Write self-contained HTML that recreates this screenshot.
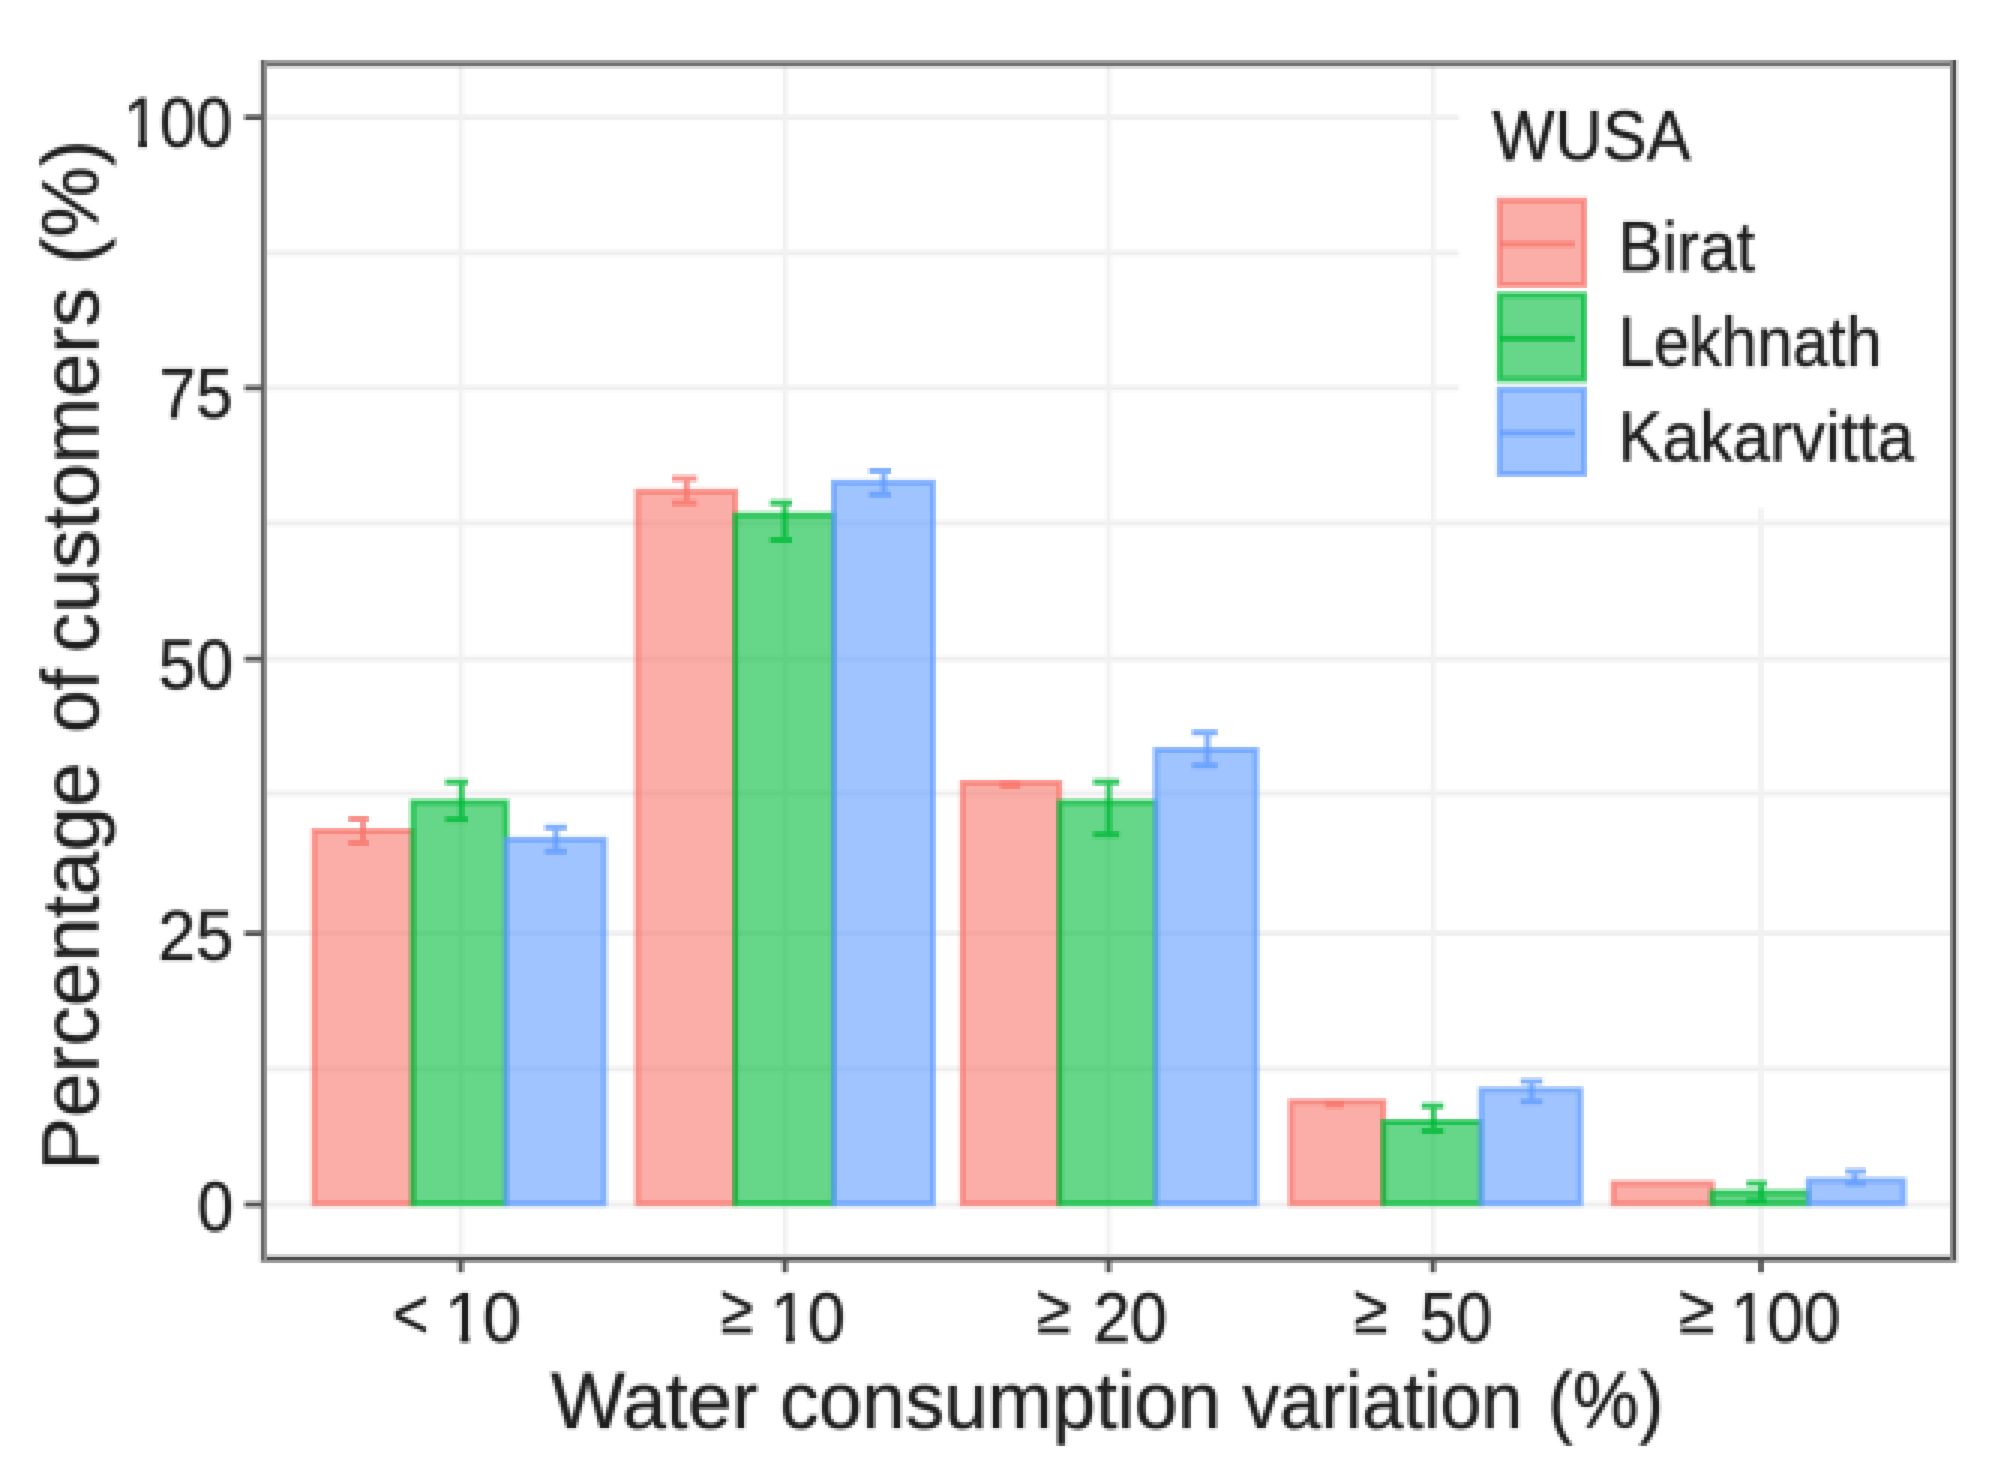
<!DOCTYPE html>
<html lang="en"><head><meta charset="utf-8"><title>Water consumption variation by WUSA</title>
<style>
html,body{margin:0;padding:0;background:#fff;}
body{width:2009px;height:1481px;overflow:hidden;}
svg{display:block;}
text{font-family:"Liberation Sans",Arial,Helvetica,sans-serif;fill:#1f1f1f;stroke:#1f1f1f;stroke-width:2.2px;stroke-opacity:0.3;stroke-linejoin:round;}
</style></head><body>
<svg width="2009" height="1481" viewBox="0 0 2009 1481">
<defs>
<filter id="soft" x="0" y="0" width="2009" height="1481" filterUnits="userSpaceOnUse" primitiveUnits="userSpaceOnUse" color-interpolation-filters="sRGB">
<feConvolveMatrix order="3" kernelMatrix="1 1 1 1 1 1 1 1 1" divisor="9" edgeMode="duplicate" preserveAlpha="true" result="avg"/><feFlood x="1" y="1" width="1" height="1" flood-color="#000" result="f"/><feOffset in="f" dx="0" dy="0" x="0" y="0" width="3" height="3" result="dot"/><feTile in="dot" result="dots"/><feComposite in="avg" in2="dots" operator="in"/><feMorphology operator="dilate" radius="1"/><feConvolveMatrix order="3" kernelMatrix="0 1 0 1 6 1 0 1 0" edgeMode="duplicate" preserveAlpha="true"/>
</filter></defs>
<g filter="url(#soft)">
<rect width="2009" height="1481" fill="#fff"/>
<!-- grid -->
<g stroke="#efefef" stroke-width="5.5" fill="none">
<line x1="265" x2="1953" y1="117.4" y2="117.4"/>
<line x1="265" x2="1953" y1="253" y2="253"/>
<line x1="265" x2="1953" y1="388" y2="388"/>
<line x1="265" x2="1953" y1="523.2" y2="523.2"/>
<line x1="265" x2="1953" y1="659" y2="659"/>
<line x1="265" x2="1953" y1="793.5" y2="793.5"/>
<line x1="265" x2="1953" y1="933.2" y2="933.2"/>
<line x1="265" x2="1953" y1="1069" y2="1069"/>
<line x1="265" x2="1953" y1="1204.5" y2="1204.5"/>
</g>
<g stroke="#f1f1f1" stroke-width="5" fill="none">
<line x1="460.8" x2="460.8" y1="64" y2="1257.7"/>
<line x1="785" x2="785" y1="64" y2="1257.7"/>
<line x1="1108.6" x2="1108.6" y1="64" y2="1257.7"/>
<line x1="1433" x2="1433" y1="64" y2="1257.7"/>
<line x1="1761" x2="1761" y1="64" y2="1257.7"/>
</g>
<!-- bars -->
<g fill-opacity="0.6" stroke-width="5.8" stroke-opacity="0.72">
<rect x="314.2" y="831" width="98.6" height="372.7" fill="#F8766D" stroke="#F8766D"/>
<rect x="412.8" y="802.2" width="93.2" height="401.5" fill="#00BA38" stroke="#00BA38"/>
<rect x="506" y="839.5" width="98.3" height="364.2" fill="#619CFF" stroke="#619CFF"/>
<rect x="637.5" y="491.5" width="97.8" height="712.2" fill="#F8766D" stroke="#F8766D"/>
<rect x="735.3" y="515" width="98.5" height="688.7" fill="#00BA38" stroke="#00BA38"/>
<rect x="833.8" y="482.5" width="99.0" height="721.2" fill="#619CFF" stroke="#619CFF"/>
<rect x="962.5" y="782.8" width="97.0" height="420.9" fill="#F8766D" stroke="#F8766D"/>
<rect x="1059.5" y="802.3" width="96.5" height="401.4" fill="#00BA38" stroke="#00BA38"/>
<rect x="1156" y="749.8" width="100.0" height="453.9" fill="#619CFF" stroke="#619CFF"/>
<rect x="1290.9" y="1101.7" width="92.6" height="102.0" fill="#F8766D" stroke="#F8766D"/>
<rect x="1383.5" y="1122" width="97.5" height="81.7" fill="#00BA38" stroke="#00BA38"/>
<rect x="1481" y="1089.8" width="99.2" height="113.9" fill="#619CFF" stroke="#619CFF"/>
<rect x="1613.3" y="1183.3" width="98.7" height="20.4" fill="#F8766D" stroke="#F8766D"/>
<rect x="1712" y="1192.6" width="96.5" height="11.1" fill="#00BA38" stroke="#00BA38"/>
<rect x="1808.5" y="1180.3" width="95.0" height="23.4" fill="#619CFF" stroke="#619CFF"/>
</g>
<!-- error bars -->
<g fill="none" stroke-width="5.8" stroke-opacity="0.8">
<path d="M348.5 819H368.7M348.5 843H368.7M363 819V843" stroke="#F8766D"/>
<path d="M445.2 782.2H467.9M445.2 819.4H467.9M461.4 782.2V819.4" stroke="#00BA38"/>
<path d="M544.7 827.5H566.7M544.7 851.5H566.7M556 827.5V851.5" stroke="#619CFF"/>
<path d="M672 478.5H697M672 503H697M686.5 478.5V503" stroke="#F8766D"/>
<path d="M770 503H792M770 540H792M784.7 503V540" stroke="#00BA38"/>
<path d="M869 470.8H891M869 494.5H891M883.7 470.8V494.5" stroke="#619CFF"/>
<path d="M1000 784H1020.4M1000 786H1020.4M1010 784V786" stroke="#F8766D"/>
<path d="M1093.2 782H1119.4M1093.2 834.5H1119.4M1108.8 782V834.5" stroke="#00BA38"/>
<path d="M1192 732.5H1217.5M1192 765.5H1217.5M1207.4 732.5V765.5" stroke="#619CFF"/>
<path d="M1325 1103.5H1343.8M1325 1105H1343.8M1334 1103.5V1105" stroke="#F8766D"/>
<path d="M1421.6 1106H1443.6M1421.6 1131H1443.6M1433.4 1106V1131" stroke="#00BA38"/>
<path d="M1520.6 1081.3H1542.6M1520.6 1101.7H1542.6M1531.6 1081.3V1101.7" stroke="#619CFF"/>
<path d="M1746.5 1183.3H1766.8M1746.5 1201H1766.8M1761.3 1183.3V1201" stroke="#00BA38"/>
<path d="M1845.5 1171.5H1865.8M1845.5 1183.3H1865.8M1854.9 1171.5V1183.3" stroke="#619CFF"/>
</g>
<!-- legend -->
<rect x="1459" y="66" width="492" height="442" fill="#fff"/>
<rect x="1499.5" y="200.3" width="84.6" height="84.6" fill="#F8766D" fill-opacity="0.6" stroke="#F8766D" stroke-width="5.8" stroke-opacity="0.72"/>
<line x1="1500" x2="1574.8" y1="244.2" y2="244.2" stroke="#F8766D" stroke-width="5.8" stroke-opacity="0.8"/>
<rect x="1499.5" y="294.8" width="84.6" height="84.6" fill="#00BA38" fill-opacity="0.6" stroke="#00BA38" stroke-width="5.8" stroke-opacity="0.72"/>
<line x1="1500" x2="1574.8" y1="338.7" y2="338.7" stroke="#00BA38" stroke-width="5.8" stroke-opacity="0.8"/>
<rect x="1499.5" y="389.3" width="84.6" height="84.6" fill="#619CFF" fill-opacity="0.6" stroke="#619CFF" stroke-width="5.8" stroke-opacity="0.72"/>
<line x1="1500" x2="1574.8" y1="433.2" y2="433.2" stroke="#619CFF" stroke-width="5.8" stroke-opacity="0.8"/>
<!-- panel border and ticks -->
<rect x="261" y="60.9" width="1698.0" height="5.8" fill="#707070"/>
<rect x="261" y="1254" width="1698.0" height="3.0" fill="#d0d0d0"/>
<rect x="261" y="1257" width="1698.0" height="3.0" fill="#484848"/>
<rect x="261" y="1260" width="1698.0" height="3.0" fill="#9a9a9a"/>
<rect x="258" y="60" width="3.0" height="1203.0" fill="#ededed"/>
<rect x="261" y="60" width="3.0" height="1200.0" fill="#666666"/>
<rect x="264" y="60" width="3.0" height="1200.0" fill="#909090"/>
<rect x="1950" y="60" width="3.0" height="1200.0" fill="#8a8a8a"/>
<rect x="1953" y="60" width="3.0" height="1200.0" fill="#4d4d4d"/>
<rect x="1956" y="60" width="3.0" height="1203.0" fill="#e0e0e0"/>
<g stroke="#555" stroke-width="5.4">
<line x1="244.5" x2="263" y1="117.4" y2="117.4"/>
<line x1="244.5" x2="263" y1="388" y2="388"/>
<line x1="244.5" x2="263" y1="659" y2="659"/>
<line x1="244.5" x2="263" y1="933.4" y2="933.4"/>
<line x1="244.5" x2="263" y1="1204.5" y2="1204.5"/>
<line x1="460.8" x2="460.8" y1="1259" y2="1272.5"/>
<line x1="785" x2="785" y1="1259" y2="1272.5"/>
<line x1="1108.6" x2="1108.6" y1="1259" y2="1272.5"/>
<line x1="1433" x2="1433" y1="1259" y2="1272.5"/>
<line x1="1761" x2="1761" y1="1259" y2="1272.5"/>
</g>
<!-- text -->
<text y="147.3" font-size="69.5"><tspan x="123.49" y="147.3" textLength="108.62" lengthAdjust="spacingAndGlyphs">100</tspan></text>
<text y="418" font-size="69.5"><tspan x="159.19" y="418.0" textLength="73.61" lengthAdjust="spacingAndGlyphs">75</tspan></text>
<text y="689.2" font-size="69.5"><tspan x="158.62" y="689.2" textLength="74.62" lengthAdjust="spacingAndGlyphs">50</tspan></text>
<text y="959.8" font-size="69.5"><tspan x="158.11" y="959.8" textLength="75.35" lengthAdjust="spacingAndGlyphs">25</tspan></text>
<text y="1230.6" font-size="69.5"><tspan x="197.29" y="1230.6" textLength="36.27" lengthAdjust="spacingAndGlyphs">0</tspan></text>
<text y="1341.5" font-size="69.5"><tspan x="392.39" y="1338.1" textLength="36.36" lengthAdjust="spacingAndGlyphs">&lt;</tspan> <tspan x="444.64" y="1341.5" textLength="76.26" lengthAdjust="spacingAndGlyphs">10</tspan></text>
<text y="1341.5" font-size="69.5"><tspan x="720.72" y="1332.5" textLength="32.49" lengthAdjust="spacingAndGlyphs">≥</tspan> <tspan x="770.25" y="1341.5" textLength="75.11" lengthAdjust="spacingAndGlyphs">10</tspan></text>
<text y="1341.5" font-size="69.5"><tspan x="1036.63" y="1332.5" textLength="34.17" lengthAdjust="spacingAndGlyphs">≥</tspan> <tspan x="1093.17" y="1341.5" textLength="74.15" lengthAdjust="spacingAndGlyphs">20</tspan></text>
<text y="1341.5" font-size="69.5"><tspan x="1353.63" y="1332.5" textLength="34.17" lengthAdjust="spacingAndGlyphs">≥</tspan> <tspan x="1420.42" y="1341.5" textLength="71.81" lengthAdjust="spacingAndGlyphs">50</tspan></text>
<text y="1341.5" font-size="69.5"><tspan x="1679.04" y="1332.5" textLength="35.85" lengthAdjust="spacingAndGlyphs">≥</tspan> <tspan x="1730.40" y="1341.5" textLength="110.15" lengthAdjust="spacingAndGlyphs">100</tspan></text>
<text y="1428" font-size="80"><tspan x="550.71" y="1428.0" textLength="207.37" lengthAdjust="spacingAndGlyphs">Water</tspan> <tspan x="779.89" y="1428.0" textLength="441.28" lengthAdjust="spacingAndGlyphs">consumption</tspan> <tspan x="1242.76" y="1428.0" textLength="279.91" lengthAdjust="spacingAndGlyphs">variation</tspan> <tspan x="1548.03" y="1428.0" textLength="115.83" lengthAdjust="spacingAndGlyphs">(%)</tspan></text>
<text transform="rotate(-90)" y="97.5" font-size="80"><tspan x="-1170.38" textLength="407.95" lengthAdjust="spacingAndGlyphs">Percentage</tspan> <tspan x="-733.09" textLength="64.41" lengthAdjust="spacingAndGlyphs">of</tspan> <tspan x="-652.67" textLength="365.23" lengthAdjust="spacingAndGlyphs">customers</tspan> <tspan x="-264.30" textLength="124.53" lengthAdjust="spacingAndGlyphs">(%)</tspan></text>
<text y="159.5" font-size="70"><tspan x="1492.34" y="159.5" textLength="198.56" lengthAdjust="spacingAndGlyphs">WUSA</tspan></text>
<text y="271" font-size="70"><tspan x="1618.18" y="271.0" textLength="136.73" lengthAdjust="spacingAndGlyphs">Birat</tspan></text>
<text y="365.5" font-size="70"><tspan x="1618.38" y="365.5" textLength="263.37" lengthAdjust="spacingAndGlyphs">Lekhnath</tspan></text>
<text y="460.5" font-size="70"><tspan x="1618.17" y="460.5" textLength="296.09" lengthAdjust="spacingAndGlyphs">Kakarvitta</tspan></text>
<rect x="125.4" y="139.9" width="13.1" height="10.2" fill="#fff"/>
<rect x="146.9" y="139.9" width="12.4" height="10.2" fill="#fff"/>
<rect x="446.8" y="1334.1" width="13.7" height="10.2" fill="#fff"/>
<rect x="469.3" y="1334.1" width="13.0" height="10.2" fill="#fff"/>
<rect x="772.3" y="1334.1" width="13.5" height="10.2" fill="#fff"/>
<rect x="794.5" y="1334.1" width="12.8" height="10.2" fill="#fff"/>
<rect x="1732.3" y="1334.1" width="13.3" height="10.2" fill="#fff"/>
<rect x="1754.1" y="1334.1" width="12.6" height="10.2" fill="#fff"/>
</g></svg></body></html>
